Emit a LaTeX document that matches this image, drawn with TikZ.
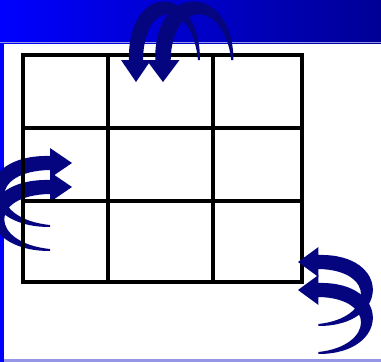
\documentclass[tikz,border=0pt]{standalone}
\usetikzlibrary{arrows.meta}
\definecolor{bandblue}{RGB}{0,0,255}
\definecolor{banddark}{RGB}{0,0,150}
\definecolor{arrowblue}{RGB}{5,5,128}
\definecolor{edgelilac}{RGB}{150,150,230}
\tikzset{
  gridline/.style={line width=3.5pt, black, line cap=rect},
  bent arrow/.pic={
    \fill[arrowblue] (62,-22) .. controls (56,-82) and (8,-84) .. (7,-22) -- (15,-22) -- (0,0)
      -- (-15,-22) -- (-7,-22) .. controls (-9,-100) and (64,-100) .. (64,-22) -- cycle;
  },
}

\begin{document}
\begin{tikzpicture}[x=1pt, y=-1pt]
  \useasboundingbox (0,0) rectangle (381,362);
  % backdrop
  \shade[left color=bandblue, right color=banddark] (0,0) rectangle (381,43);
  \fill[edgelilac] (0,41.5) rectangle (381,43);
  \fill[bandblue] (0,43) rectangle (4,362);
  \fill[edgelilac] (4,359) rectangle (381,362);
  % arrows on the left
  \pic[cm={0,-1,-1,0,(0,0)}] at (72,163) {bent arrow};
  \pic[cm={0,-1,-1,0,(0,0)}] at (72,187) {bent arrow};
  % the 3x3 grid
  \draw[gridline] (23,55) rectangle (302,282);
  \foreach \x in {108, 213} \draw[gridline] (\x,55) -- (\x,282);
  \foreach \y in {128, 201} \draw[gridline] (23,\y) -- (302,\y);
  % arrows at the top and on the right
  \pic at (136,82) {bent arrow};
  \pic[xscale=1.1] at (163,82) {bent arrow};
  \pic[rotate=-90, yscale=0.93] at (298,262) {bent arrow};
  \pic[rotate=-90, yscale=0.93] at (298,290) {bent arrow};
\end{tikzpicture}
\end{document}
